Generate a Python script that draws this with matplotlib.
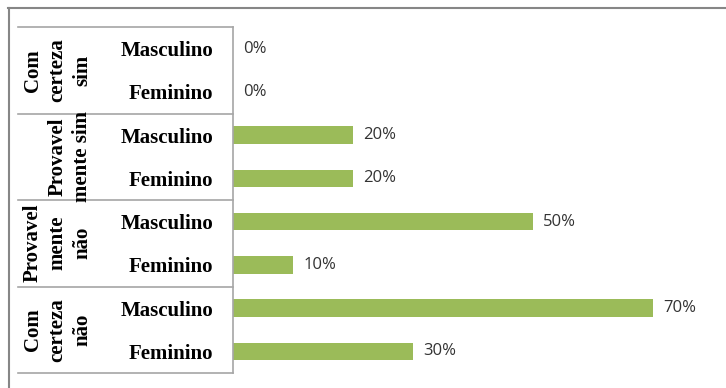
import matplotlib.pyplot as plt
from matplotlib.lines import Line2D
import matplotlib.transforms as mtransforms

# Answer groups (top to bottom) and the two sexes inside each group
groups = ['Com\ncerteza\nsim', 'Provavel\nmente sim', 'Provavel\nmente\nnão', 'Com\ncerteza\nnão']
sexes = ['Masculino', 'Feminino']
# percentages, one pair (Masculino, Feminino) per group
values = [[0, 0], [20, 20], [50, 10], [70, 30]]

BAR_COLOR = '#9BBB59'
LINE_COLOR = '#A6A6A6'
SERIF = 'Liberation Serif'

W, H = 726, 388
fig = plt.figure(figsize=(W / 100, H / 100), dpi=100)
ax = fig.add_axes([233 / W, 15 / H, 480 / W, 346 / H])

labels = []
vals = []
for g, pair in enumerate(values):
    for s, v in enumerate(pair):
        labels.append(sexes[s])
        vals.append(v)
ypos = list(range(len(vals)))

ax.barh(ypos, vals, height=0.4, color=BAR_COLOR)
ax.set_xlim(0, 80)
ax.set_ylim(len(vals) - 0.5, -0.5)

# value labels
for y, v in zip(ypos, vals):
    ax.annotate(f'{v}%', (v, y), xytext=(7.5, 0), textcoords='offset points',
                ha='left', va='center', fontsize=12, family='Open Sans',
                color='#333333')

# axis styling
for side in ['top', 'right', 'bottom']:
    ax.spines[side].set_visible(False)
ax.spines['left'].set_color(LINE_COLOR)
ax.spines['left'].set_linewidth(1.2)
ax.set_xticks([])
ax.set_yticks(ypos)
ax.set_yticklabels(labels, fontsize=15, family=SERIF, fontweight='bold')
ax.tick_params(axis='y', length=0, pad=14)

# group separators and rotated group labels
trans = mtransforms.blended_transform_factory(ax.transAxes, ax.transData)
x_sep = (18 - 233) / 480
for k in range(len(groups) + 1):
    yb = k * 2 - 0.5
    ax.add_line(Line2D([x_sep, 0], [yb, yb], transform=trans, color=LINE_COLOR,
                       linewidth=1.2, clip_on=False))
for k, g in enumerate(groups):
    ax.text((92 - 233) / 480, k * 2 + 0.5, g, transform=trans, rotation=90,
            ha='right', va='center', multialignment='center',
            fontsize=15, family=SERIF, fontweight='bold', linespacing=1.3)

# outer frame (left and top edges)
fig.add_artist(Line2D([8.5 / W, 8.5 / W], [0, (H - 7.5) / H], color='#868686',
                      linewidth=1.5))
fig.add_artist(Line2D([8 / W, 1], [(H - 7.5) / H, (H - 7.5) / H], color='#868686',
                      linewidth=1.5))

fig.savefig('out.png', dpi=100)
